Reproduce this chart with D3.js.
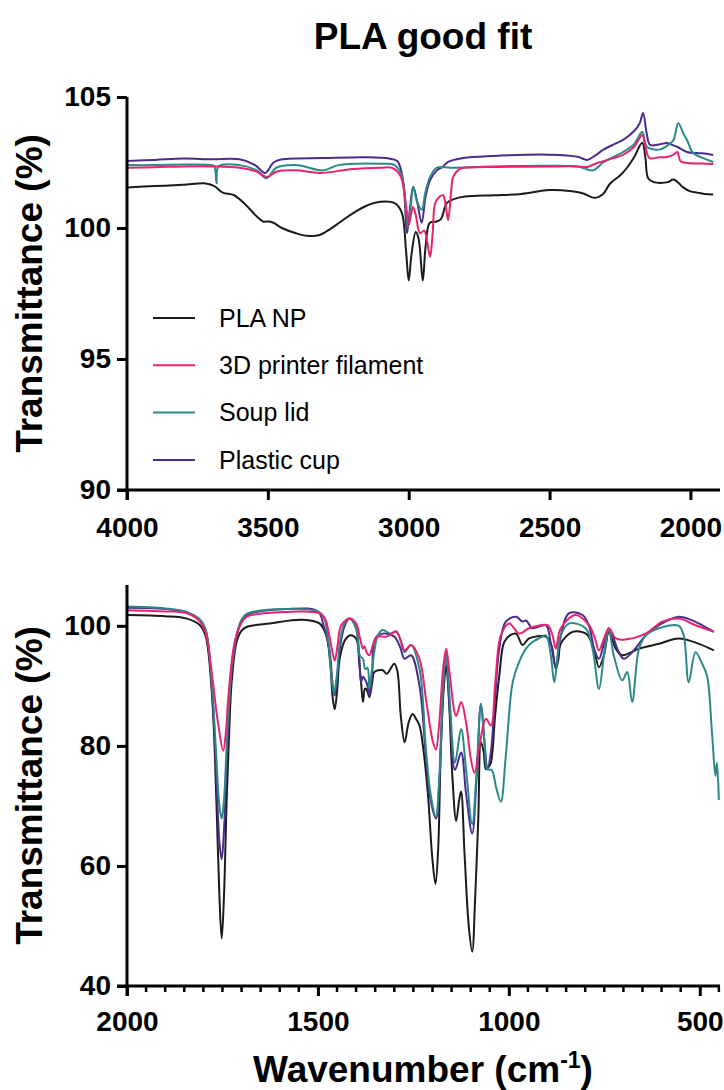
<!DOCTYPE html>
<html>
<head>
<meta charset="utf-8">
<script src="https://cdn.jsdelivr.net/npm/d3@7"></script>
<style>
  body { margin: 0; background: #fff; }
  svg { display: block; font-family: "Liberation Sans", Arial, sans-serif; }
  .axis path, .axis line { stroke: #000; stroke-width: 3px; }
  .axis text { font-size: 28px; font-weight: bold; fill: #000; }
</style>
</head>
<body>
<script>

// series names + colours
const SERIES_NAMES = ["PLA NP", "3D printer filament", "Soup lid", "Plastic cup"];
const SERIES_COLORS = ["#1b1b1b", "#e8236f", "#2b8a88", "#4b2c8e"];

// top panel ticks
const TOP_X_TICKS = [4000, 3500, 3000, 2500, 2000];
const TOP_Y_TICKS = [90, 95, 100, 105];
// bottom panel ticks
const BOT_X_TICKS = [2000, 1500, 1000, 500];
const BOT_Y_TICKS = [40, 60, 80, 100];

// [wavenumber, transmittance], 4000-1900 cm-1
const top_pla = [[4000,101.55],[3900,101.6],[3800,101.65],[3720,101.7],[3690,101.6],[3660,101.35],[3620,101.25],[3580,100.9],[3540,100.45],[3517,100.25],[3495,100.25],[3480,100.2],[3450,100.0],[3400,99.8],[3360,99.7],[3320,99.72],[3280,99.95],[3240,100.25],[3200,100.55],[3150,100.85],[3100,101.0],[3050,100.95],[3025,100.6],[3010,99.2],[3000,98.0],[2990,99.0],[2975,99.85],[2965,99.6],[2950,98.0],[2940,99.3],[2925,100.2],[2900,100.25],[2885,100.35],[2865,100.95],[2840,101.1],[2800,101.2],[2700,101.25],[2600,101.3],[2500,101.45],[2420,101.4],[2380,101.32],[2340,101.15],[2310,101.3],[2285,101.7],[2250,102.0],[2225,102.3],[2200,102.7],[2171,103.25],[2160,102.7],[2150,101.9],[2130,101.75],[2107,101.72],[2080,101.75],[2061,101.85],[2040,101.7],[2026,101.55],[2000,101.4],[1976,101.35],[1950,101.3],[1919,101.28]];
const top_filament = [[4000,102.3],[3900,102.32],[3800,102.35],[3700,102.35],[3600,102.3],[3540,102.15],[3503,101.95],[3470,102.15],[3400,102.2],[3315,102.1],[3200,102.25],[3100,102.3],[3060,102.3],[3030,102.0],[3010,100.9],[3000,100.1],[2985,100.8],[2975,100.5],[2960,99.8],[2945,99.9],[2935,99.5],[2924,98.9],[2915,99.8],[2906,100.95],[2890,101.2],[2878,101.25],[2868,100.8],[2860,100.3],[2850,101.3],[2842,101.95],[2820,102.25],[2807,102.29],[2700,102.33],[2500,102.35],[2400,102.35],[2367,102.33],[2331,102.48],[2280,102.65],[2239,102.79],[2200,103.1],[2171,103.55],[2160,103.1],[2145,102.67],[2110,102.7],[2083,102.71],[2060,102.8],[2047,102.9],[2035,102.55],[2010,102.48],[1960,102.46],[1919,102.44]];
const top_soup = [[4000,102.4],[3900,102.4],[3800,102.42],[3700,102.4],[3690,102.35],[3682,101.7],[3675,102.35],[3600,102.4],[3540,102.2],[3505,101.9],[3470,102.3],[3400,102.4],[3304,102.2],[3250,102.4],[3100,102.45],[3050,102.4],[3025,102.0],[3010,100.8],[3003,100.0],[2992,100.9],[2984,101.57],[2970,101.0],[2954,100.7],[2940,101.4],[2924,101.95],[2900,102.3],[2850,102.3],[2700,102.35],[2500,102.38],[2400,102.35],[2345,102.2],[2310,102.5],[2239,102.9],[2200,103.2],[2171,103.66],[2155,103.1],[2130,103.0],[2107,103.0],[2075,103.2],[2060,103.36],[2043,104.0],[2025,103.6],[2012,103.36],[1990,102.86],[1950,102.65],[1919,102.52]];
const top_cup = [[4000,102.56],[3900,102.6],[3800,102.65],[3700,102.62],[3600,102.62],[3545,102.4],[3510,102.1],[3480,102.5],[3450,102.62],[3300,102.67],[3150,102.7],[3070,102.65],[3040,102.55],[3020,101.8],[3006,99.8],[2995,100.8],[2984,101.57],[2970,101.0],[2954,100.2],[2940,101.2],[2924,101.83],[2900,102.2],[2880,102.33],[2860,102.52],[2807,102.67],[2700,102.75],[2500,102.8],[2400,102.72],[2367,102.6],[2340,102.75],[2310,102.98],[2270,103.2],[2239,103.36],[2200,103.7],[2180,104.0],[2168,104.39],[2155,103.6],[2143,103.17],[2107,103.2],[2083,103.24],[2060,103.15],[2047,103.1],[2012,102.9],[1960,102.85],[1919,102.79]];

// 2000-450 cm-1
const bot_pla = [[2000,101.8],[1900,101.6],[1843,101.2],[1809,100.1],[1795,98.5],[1788,96.2],[1775,86],[1766,71],[1758,55],[1752,47.9],[1746,55],[1739,71],[1732,83],[1726,90.6],[1713,97.3],[1700,99.2],[1687,99.8],[1626,100.4],[1540,101.0],[1496,100.4],[1478,98.4],[1468,94],[1461,87.8],[1456,86.1],[1450,89],[1443,94.5],[1430,97.5],[1417,98.4],[1400,97.9],[1392,94],[1387,90.6],[1382,87.3],[1377,89.5],[1374,89.5],[1369,88.8],[1365,88.1],[1358,90.5],[1352,92.3],[1330,92.6],[1320,92.0],[1300,93.7],[1292,92.5],[1283,85],[1273,80.6],[1262,84],[1252,85.3],[1243,84.5],[1234,83.4],[1225,80],[1212,72],[1200,61],[1192,57],[1185,63],[1178,80],[1170,90],[1164,93.4],[1157,88],[1148,75],[1138,67.5],[1130,71],[1125,72.4],[1116,62],[1105,50],[1096,45.7],[1088,55],[1080,68],[1073,80.6],[1066,79],[1060,76.1],[1053,76.5],[1047,77.2],[1036,85],[1025,91.7],[1012,97.3],[995,98.5],[981,98.7],[964,96.8],[947,97.9],[903,98.2],[890,97],[886,96.2],[877,92.8],[870,94.5],[864,97.0],[833,99.0],[798,98.7],[785,97.5],[777,96.2],[764,93.1],[751,95.1],[738,99.0],[728,97.5],[720,96.2],[703,95.1],[659,96.2],[607,97.0],[555,97.9],[502,97.0],[463,95.9]];
const bot_filament = [[2000,102.6],[1900,102.4],[1843,102.1],[1809,100.7],[1795,99],[1788,97],[1775,90.6],[1762,84],[1748,79.2],[1740,83],[1735,87.8],[1718,97.3],[1700,100.5],[1687,101.5],[1583,102.3],[1496,102.1],[1480,101],[1474,99.6],[1463,96],[1456,94.2],[1448,97],[1439,100.1],[1417,101.2],[1400,100.4],[1390,98],[1382,96.2],[1378,96.6],[1372,95.5],[1365,95.1],[1355,97],[1343,98.2],[1320,98.2],[1295,99.0],[1283,97.5],[1273,95.9],[1256,96.8],[1234,94.5],[1217,87.8],[1200,81],[1191,79.4],[1182,84],[1172,93],[1164,96.2],[1155,92],[1138,85.0],[1125,87.3],[1112,83.9],[1100,78],[1090,75.5],[1077,80.0],[1060,84.5],[1047,83.4],[1035,91],[1021,98.4],[999,100.4],[973,98.7],[947,99.6],[899,100.1],[886,98.5],[877,96.2],[864,99.6],[825,101.8],[790,100.1],[775,98],[764,95.9],[750,98],[738,99.6],[720,97.9],[700,97.7],[642,98.7],[598,100.7],[555,101.2],[511,100.1],[463,99.0]];
const bot_soup = [[2000,103.2],[1900,102.9],[1843,102.3],[1809,101],[1795,99.5],[1788,97.5],[1775,88],[1766,78],[1758,70],[1752,67.9],[1746,71],[1739,80],[1732,88],[1726,93],[1713,98.5],[1700,101],[1687,102],[1583,102.8],[1500,102.4],[1485,101.5],[1474,98],[1465,92],[1458,88.7],[1450,92],[1443,97],[1430,100.5],[1417,101.2],[1400,99.5],[1390,95],[1382,94.5],[1376,92.8],[1370,93],[1365,89.5],[1358,93],[1343,98.4],[1330,99.3],[1310,98.7],[1295,99.1],[1283,97.5],[1273,95.6],[1256,96.8],[1234,92.8],[1217,79.4],[1205,72],[1191,68.2],[1182,75],[1172,90],[1164,95.6],[1155,88],[1141,77.2],[1125,82.8],[1112,76],[1096,67],[1085,75],[1073,87.0],[1063,80],[1056,76.1],[1045,76],[1033,73],[1021,70.7],[1008,78.3],[990,90.6],[973,94],[955,96.2],[938,97.3],[921,97.9],[903,98.4],[890,95],[881,90.6],[872,95],[864,98.4],[842,100.4],[799,99.6],[781,96.2],[764,89.5],[751,95],[738,99.3],[725,95],[703,90.9],[690,92.3],[677,87.3],[659,96.2],[640,98.5],[607,99.6],[555,100],[542,98.4],[529,90.6],[511,95.6],[494,93.7],[481,91.7],[468,82.2],[459,75],[455,77.2],[450,71]];
const bot_cup = [[2000,103.0],[1900,102.8],[1843,102.2],[1809,101],[1795,99.5],[1788,97.3],[1775,87],[1766,75],[1758,64],[1752,61.1],[1746,66],[1739,77],[1732,87],[1726,92.5],[1713,98.2],[1700,100.8],[1687,101.8],[1583,102.8],[1500,102.4],[1485,100],[1470,96.2],[1461,90],[1456,88.4],[1450,91],[1443,96],[1430,100],[1417,101.2],[1400,99.6],[1392,95],[1387,90.6],[1382,91.5],[1376,91],[1370,90],[1365,88.4],[1358,92],[1350,97.9],[1330,98.7],[1300,98.2],[1285,96.5],[1273,94.5],[1256,95.1],[1234,90],[1217,78],[1205,71],[1191,67.9],[1182,74],[1172,89],[1164,95.6],[1155,86],[1141,76],[1125,78.9],[1112,72],[1096,65.4],[1085,74],[1073,87.0],[1063,80],[1056,76.1],[1047,79],[1036,88],[1025,96.2],[1008,100.7],[981,101.5],[964,100.7],[955,100.9],[938,99.6],[903,100.1],[890,97],[877,93.1],[868,97],[842,102.1],[807,101.8],[790,100],[776,96],[764,94.5],[751,97],[738,99.6],[712,95.6],[699,94.5],[677,95.6],[640,98.5],[607,100.1],[555,101.5],[520,100.9],[494,100.1],[463,99.0]];

const WIDTH = 724, HEIGHT = 1090;

const svg = d3.select("body").append("svg")
    .attr("width", WIDTH)
    .attr("height", HEIGHT);

// title
svg.append("text")
    .attr("x", 423).attr("y", 49)
    .attr("text-anchor", "middle")
    .style("font-size", "37px").style("font-weight", "bold")
    .text("PLA good fit");

const draw_panel = function (cfg) {
    const x = d3.scaleLinear().domain(cfg.xDomain).range([127, 720]);
    const y = d3.scaleLinear().domain(cfg.yDomain).range(cfg.yRange);

    const g = svg.append("g");

    const line = d3.line()
        .x(d => x(d[0]))
        .y(d => y(d[1]))
        .curve(d3.curveCatmullRom.alpha(0.5));

    // draw order: black, purple, teal, pink
    const order = [0, 3, 2, 1];
    g.selectAll("path.spec")
        .data(order)
        .join("path")
        .attr("class", "spec")
        .attr("fill", "none")
        .attr("stroke", i => SERIES_COLORS[i])
        .attr("stroke-width", 2)
        .attr("stroke-linejoin", "round")
        .attr("d", i => line(cfg.series[i]));

    // x axis
    const xAxis = d3.axisBottom(x)
        .tickValues(cfg.xTicks)
        .tickSize(10)
        .tickSizeOuter(0)
        .tickPadding(cfg.xPad)
        .tickFormat(d3.format("d"));
    const gx = g.append("g")
        .attr("class", "axis")
        .attr("transform", `translate(0,${cfg.yRange[0]})`)
        .call(xAxis);
    // domain extends left to meet the y tick
    gx.select(".domain").attr("d", `M117,0H720`);

    if (cfg.minorTicks) {
        gx.selectAll("line.minor")
            .data(cfg.minorTicks)
            .join("line")
            .attr("class", "minor")
            .attr("x1", d => x(d)).attr("x2", d => x(d))
            .attr("y1", 0).attr("y2", 6)
            .style("stroke-width", "2.5px");
    }

    const yAxis = d3.axisLeft(y)
        .tickValues(cfg.yTicks)
        .tickSize(10)
        .tickSizeOuter(0)
        .tickPadding(6);
    const gy = g.append("g")
        .attr("class", "axis")
        .attr("transform", "translate(127,0)")
        .call(yAxis);
    gy.select(".domain").attr("d", `M0,${cfg.yRange[0] + 10}V${cfg.yRange[1]}`);

    // y title
    const midY = (cfg.yRange[0] + cfg.yRange[1]) / 2;
    svg.append("text")
        .attr("transform", `translate(42,${midY}) rotate(-90)`)
        .attr("text-anchor", "middle")
        .style("font-size", "37px").style("font-weight", "bold")
        .text("Transmittance (%)");

    return {x, y};
};

draw_panel({
    xDomain: [4000, 1895], yDomain: [90, 105], yRange: [490, 97],
    xTicks: TOP_X_TICKS, yTicks: TOP_Y_TICKS, xPad: 17,
    series: [top_pla, top_filament, top_soup, top_cup]
});

const minor = d3.range(1950, 449, -50).filter(d => d % 500 !== 0);
draw_panel({
    xDomain: [2000, 447], yDomain: [40, 106.8], yRange: [986, 585],
    xTicks: BOT_X_TICKS, yTicks: BOT_Y_TICKS, xPad: 15,
    series: [bot_pla, bot_filament, bot_soup, bot_cup],
    minorTicks: minor
});

// legend
const legend = svg.append("g").attr("transform", "translate(153,318)");
const rows = legend.selectAll("g").data(SERIES_NAMES).join("g")
    .attr("transform", (d, i) => `translate(0,${i * 47.3})`);
rows.append("line")
    .attr("x1", 0).attr("x2", 42)
    .attr("stroke", (d, i) => SERIES_COLORS[i])
    .attr("stroke-width", 2);
rows.append("text")
    .attr("x", 66).attr("dy", "0.35em")
    .style("font-size", "25px")
    .text(d => d);

// x title
const xt = svg.append("text")
    .attr("x", 423).attr("y", 1082)
    .attr("text-anchor", "middle")
    .style("font-size", "37px").style("font-weight", "bold");
xt.append("tspan").text("Wavenumber (cm");
xt.append("tspan").attr("dy", -14).style("font-size", "23px").text("-1");
xt.append("tspan").attr("dy", 14).text(")");

</script>
</body>
</html>
